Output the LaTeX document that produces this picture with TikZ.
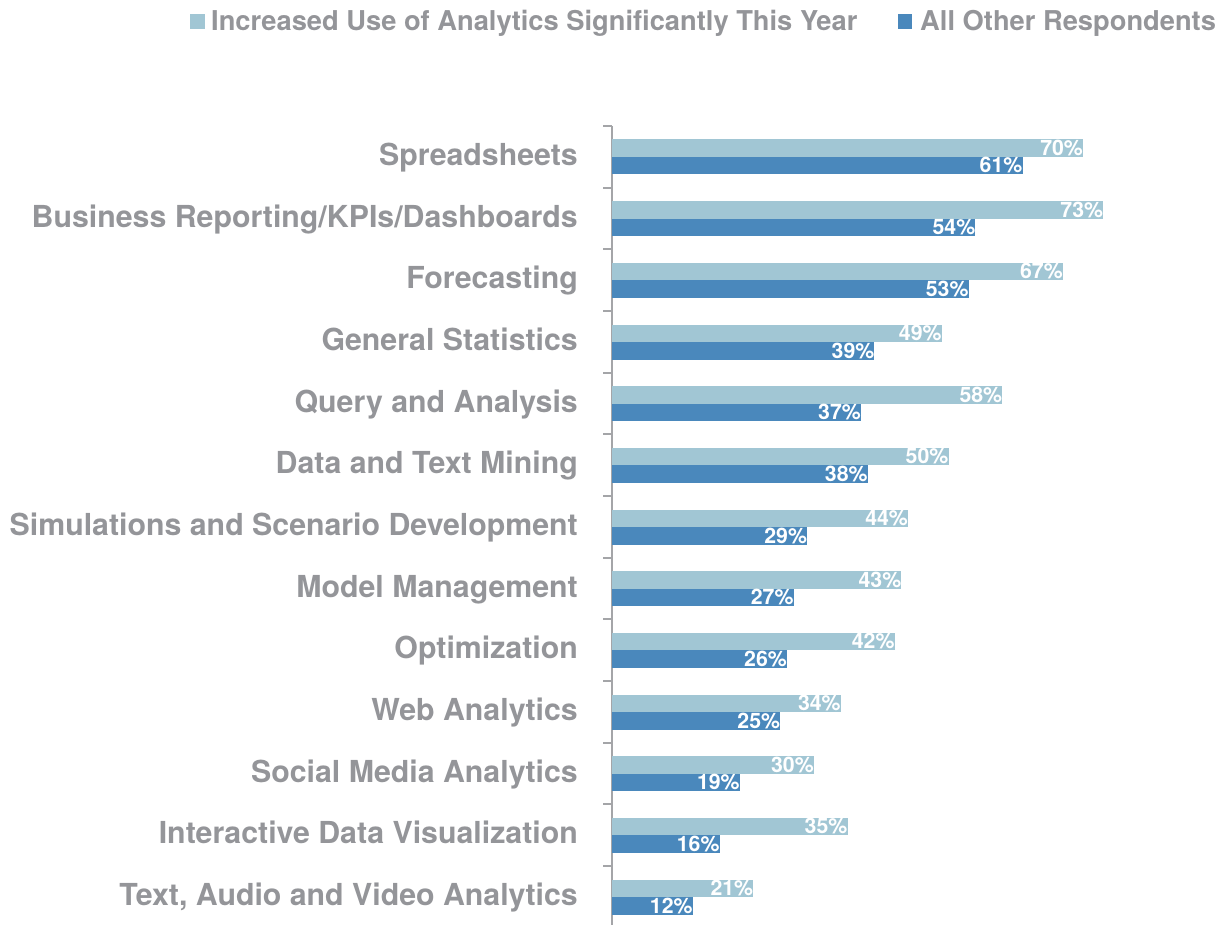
\documentclass[tikz,border=0pt]{standalone}
\usepackage{fontspec}
\setmainfont{TeX Gyre Heros}
\usepackage{xcolor}
\usetikzlibrary{positioning}
\definecolor{increased}{RGB}{161,198,212}
\definecolor{others}{RGB}{74,136,188}
\definecolor{labelgray}{RGB}{148,149,153}

\begin{document}
\begin{tikzpicture}[x=1pt,y=-1pt,
    catlabel/.style={anchor=base east,inner sep=0pt,text=labelgray,font=\fontsize{30.3}{30}\selectfont\bfseries},
    valuelabel/.style={anchor=base east,inner sep=0pt,text=white,font=\fontsize{21.3}{21}\selectfont\bfseries},
    legendlabel/.style={anchor=base west,inner sep=0pt,text=labelgray,font=\fontsize{27.3}{27}\selectfont\bfseries},
    axisline/.style={draw=labelgray!85,line width=1.8pt}]
    \useasboundingbox (0,0) rectangle (1230,925);
    % legend
    \fill[increased] (190,14) rectangle (205,29);
    \node[legendlabel] (leg1) at (211,30.5) {Increased Use of Analytics Significantly This Year};
    \fill[others] (898,14) rectangle (912,29);
    \node[legendlabel] (leg2) at (920,30.5) {All Other Respondents};
    % axis and ticks
    \coordinate (axtop) at (612,126);
    \coordinate (axbot) at (612,925);
    \draw[axisline] (axtop) -- (axbot);
    \foreach \k in {0,...,12}
        \draw[axisline] (603,126+61.67*\k) -- (612,126+61.67*\k);
    % bars
    \foreach \lab/\vinc/\voth [count=\i from 0] in {
        Spreadsheets/70/61,
        {Business Reporting/KPIs/Dashboards}/73/54,
        Forecasting/67/53,
        General Statistics/49/39,
        Query and Analysis/58/37,
        Data and Text Mining/50/38,
        Simulations and Scenario Development/44/29,
        Model Management/43/27,
        Optimization/42/26,
        Web Analytics/34/25,
        Social Media Analytics/30/19,
        Interactive Data Visualization/35/16,
        {Text, Audio and Video Analytics}/21/12}{
        \pgfmathsetmacro{\y}{157+61.67*\i}
        \fill[increased] (612,\y-17.5) rectangle ({612+6.73*\vinc},\y);
        \fill[others] (612,\y) rectangle ({612+6.73*\voth},\y+17.5);
        \node[catlabel] (cat\i) at (578,\y+8.5) {\lab};
        \node[valuelabel] (inc\i) at ({612+6.73*\vinc},\y-1.5) {\vinc\%};
        \node[valuelabel] (oth\i) at ({612+6.73*\voth},\y+16) {\voth\%};
    }
\end{tikzpicture}
\end{document}
